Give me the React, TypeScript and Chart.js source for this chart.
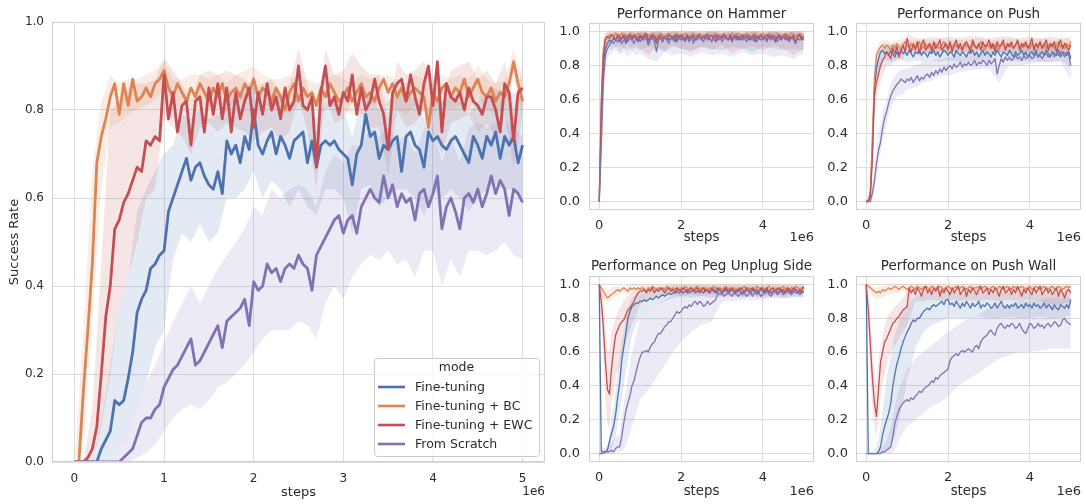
import React, { useEffect, useRef } from "react";
import { Chart, registerables } from "chart.js";

Chart.register(...registerables);

// ---------------------------------------------------------------------------
// Data (success rates in percent). Evaluation curves are logged every
// 50k environment steps (101 points, 0 .. 5e6); confidence bands are stored
// on coarser step grids.
// ---------------------------------------------------------------------------

const EVAL_INTERVAL = 50000;
const MAIN_BAND_INTERVAL = 100000;
// band grid for the per-task panels, in millions of steps
const SMALL_BAND_STEPS = [0, 0.05, 0.1, 0.15, 0.2, 0.25, 0.3, 0.4, 0.5, 0.6, 0.7, 0.8, 0.9, 1, 1.2, 1.4, 1.6, 1.8, 2, 2.25, 2.5, 2.75, 3, 3.25, 3.5, 3.75, 4, 4.25, 4.5, 4.75, 5];

const MODES = ["Fine-tuning", "Fine-tuning + BC", "Fine-tuning + EWC", "From Scratch"];
const COLORS = ["#4c72b0", "#dd8452", "#c44e52", "#8172b3"];
const LEGEND_TITLE = "mode";

const MAIN_X_TICKS = [0, 1, 2, 3, 4, 5];
const SMALL_X_TICKS = [0, 2, 4];
const Y_TICKS = [0, 0.2, 0.4, 0.6, 0.8, 1.0];

// ---- aggregate over all tasks ----
const MAIN_BLUE = [
  0, 0, 0, 0, 0, 0, 3, 5, 7, 14, 13, 14, 19, 25, 34, 37, 39, 44, 45, 47,
  48, 57, 60, 63, 66, 69, 64, 67, 68, 65, 63, 62, 66, 61, 73, 70, 72, 68, 74, 71,
  80, 72, 70, 73, 75, 70, 74, 72, 69, 73, 74, 75, 68, 73, 67, 72, 73, 72, 73, 71,
  70, 69, 63, 70, 72, 79, 74, 75, 69, 72, 71, 73, 74, 66, 74, 75, 72, 71, 67, 75,
  73, 74, 72, 71, 73, 74, 72, 70, 68, 74, 72, 69, 74, 72, 75, 69, 74, 72, 74, 68,
  72,
];
const MAIN_ORANGE = [
  0, 0, 16, 30, 45, 68, 74, 78, 83, 86, 79, 86, 81, 87, 82, 83, 85, 83, 86, 87,
  89, 85, 83, 86, 84, 82, 85, 83, 86, 84, 82, 85, 83, 86, 82, 84, 85, 83, 86, 84,
  87, 83, 85, 84, 82, 85, 83, 80, 84, 86, 82, 85, 83, 84, 81, 85, 83, 86, 84, 82,
  83, 85, 82, 84, 86, 83, 84, 82, 85, 87, 84, 86, 83, 85, 82, 84, 85, 84, 83, 76,
  84, 82, 85, 86, 83, 85, 84, 87, 83, 85, 87, 84, 83, 85, 82, 84, 83, 86, 91, 86,
  82,
];
const MAIN_RED = [
  0, 0, 0, 1, 3, 8, 20, 33, 40, 53, 55, 59, 61, 64, 67, 66, 73, 72, 74, 73,
  88, 78, 84, 75, 81, 82, 72, 82, 83, 75, 85, 79, 86, 78, 85, 75, 84, 78, 82, 85,
  76, 84, 79, 86, 80, 83, 78, 85, 80, 82, 90, 81, 80, 83, 67, 84, 90, 81, 83, 79,
  84, 82, 88, 79, 85, 80, 82, 87, 82, 79, 71, 84, 86, 87, 82, 88, 83, 79, 86, 90,
  81, 91, 75, 86, 83, 82, 84, 80, 85, 82, 81, 79, 83, 83, 80, 75, 86, 84, 73, 84,
  85,
];
const MAIN_PURPLE = [
  0, 0, 0, 0, 0, 0, 0, 0, 0, 0, 0, 1, 2, 3, 6, 9, 10, 10, 12, 13,
  17, 19, 21, 22, 24, 26, 28, 22, 23, 25, 27, 29, 31, 26, 32, 33, 34, 35, 37, 31,
  41, 39, 40, 45, 43, 44, 41, 44, 45, 44, 47, 45, 44, 39, 47, 49, 51, 53, 55, 56,
  52, 55, 56, 52, 58, 60, 62, 60, 59, 65, 60, 63, 58, 61, 59, 60, 55, 61, 62, 58,
  61, 65, 53, 58, 60, 57, 53, 60, 61, 59, 62, 58, 61, 65, 61, 64, 62, 56, 62, 61,
  59,
];

const MAIN_BLUE_LO = [0, 0, 0, 0, 1, 3, 6, 12, 18, 26, 30, 46, 52, 50, 54, 50, 52, 60, 60, 62, 66, 60, 64, 62, 58, 62, 58, 56, 62, 62, 60, 52, 62, 63, 58, 60, 62, 62, 60, 56, 62, 60, 62, 60, 57, 60, 62, 63, 62, 62, 60];
const MAIN_BLUE_HI = [0, 0, 0, 10, 22, 35, 42, 57, 62, 66, 70, 72, 79, 78, 80, 78, 79, 82, 83, 84, 88, 80, 84, 84, 80, 84, 80, 78, 82, 82, 80, 74, 82, 84, 80, 82, 84, 84, 82, 78, 83, 82, 83, 82, 79, 82, 84, 85, 84, 84, 82];
const MAIN_ORANGE_LO = [0, 5, 33, 62, 76, 77, 79, 80, 81, 82, 85, 80, 81, 82, 82, 80, 81, 80, 82, 82, 84, 82, 80, 80, 81, 80, 80, 79, 80, 81, 80, 79, 82, 81, 81, 81, 80, 79, 81, 80, 79, 81, 80, 81, 80, 83, 80, 79, 80, 87, 79];
const MAIN_ORANGE_HI = [0, 30, 66, 82, 88, 86, 87, 87, 88, 89, 91, 87, 87, 88, 88, 87, 88, 86, 88, 89, 90, 88, 87, 87, 88, 87, 87, 86, 87, 88, 87, 86, 88, 87, 88, 88, 87, 86, 88, 87, 86, 88, 87, 88, 87, 90, 87, 86, 87, 94, 86];
const MAIN_RED_LO = [0, 0, 0, 8, 20, 35, 42, 50, 60, 62, 78, 76, 74, 70, 76, 77, 75, 77, 76, 75, 73, 75, 76, 73, 75, 83, 75, 62, 84, 77, 78, 82, 79, 76, 76, 65, 80, 76, 77, 80, 75, 70, 77, 78, 79, 75, 77, 74, 79, 67, 79];
const MAIN_RED_HI = [0, 0, 12, 45, 80, 82, 85, 86, 86, 87, 92, 89, 86, 82, 88, 89, 88, 89, 88, 87, 85, 86, 87, 84, 86, 94, 86, 75, 94, 88, 89, 93, 90, 88, 88, 78, 91, 88, 89, 91, 87, 82, 89, 90, 91, 87, 89, 86, 91, 80, 91];
const MAIN_PURPLE_LO = [0, 0, 0, 0, 0, 0, 0, 1, 2, 4, 7, 10, 12, 13, 12, 14, 17, 18, 20, 22, 25, 28, 30, 30, 30, 32, 31, 28, 36, 40, 37, 42, 45, 47, 46, 48, 45, 46, 42, 48, 48, 40, 46, 42, 48, 48, 47, 48, 50, 47, 46];
const MAIN_PURPLE_HI = [0, 0, 0, 0, 1, 3, 6, 12, 18, 22, 27, 32, 36, 40, 36, 40, 44, 47, 50, 53, 58, 56, 62, 60, 62, 63, 62, 58, 66, 70, 68, 72, 72, 76, 74, 76, 73, 74, 70, 76, 76, 68, 74, 68, 76, 77, 76, 77, 78, 76, 74];

// ---- Hammer ----
const HAMMER_BLUE = [
  0, 45, 80, 90, 93, 95, 94, 96, 95, 97, 94, 96, 97, 93, 96, 98, 95, 97, 96, 94,
  97, 95, 98, 96, 93, 97, 96, 98, 95, 97, 96, 94, 97, 98, 95, 96, 97, 94, 98, 96,
  97, 95, 96, 98, 94, 97, 96, 95, 98, 97, 95, 97, 96, 98, 96, 94, 97, 98, 95, 96,
  97, 98, 96, 95, 97, 94, 98, 96, 97, 95, 96, 98, 97, 95, 96, 98, 94, 97, 96, 98,
  96, 97, 95, 98, 96, 97, 94, 96, 98, 95, 97, 96, 98, 95, 97, 96, 94, 97, 98, 96,
  95,
];
const HAMMER_ORANGE = [
  0, 60, 88, 96, 97, 98, 98, 97, 99, 98, 97, 99, 98, 98, 97, 99, 98, 97, 98, 99,
  98, 97, 99, 98, 98, 97, 99, 98, 97, 98, 99, 98, 97, 98, 99, 98, 97, 98, 99, 98,
  97, 98, 99, 98, 97, 98, 99, 97, 98, 99, 98, 97, 98, 99, 98, 97, 98, 99, 98, 97,
  98, 99, 97, 98, 98, 99, 97, 98, 99, 98, 97, 98, 99, 98, 97, 98, 99, 98, 97, 98,
  99, 97, 98, 99, 98, 97, 98, 99, 98, 97, 98, 99, 97, 98, 99, 98, 97, 98, 99, 98,
  97,
];
const HAMMER_RED = [
  0, 56, 86, 95, 97, 96, 98, 97, 95, 98, 97, 96, 98, 94, 97, 98, 96, 98, 97, 95,
  98, 96, 97, 99, 95, 97, 98, 96, 93, 97, 98, 96, 97, 95, 98, 97, 96, 98, 94, 97,
  98, 97, 95, 98, 96, 97, 98, 95, 97, 98, 96, 97, 98, 95, 97, 98, 96, 94, 98, 97,
  96, 98, 97, 95, 98, 96, 97, 98, 95, 97, 98, 96, 97, 98, 95, 97, 98, 96, 97, 98,
  95, 97, 98, 96, 97, 98, 94, 97, 98, 96, 97, 98, 95, 97, 96, 98, 93, 97, 98, 95,
  97,
];
const HAMMER_PURPLE = [
  0, 33, 70, 86, 90, 92, 94, 93, 95, 94, 96, 93, 95, 97, 94, 96, 95, 93, 96, 97,
  94, 96, 95, 97, 92, 95, 96, 94, 88, 95, 96, 94, 97, 95, 93, 96, 95, 97, 94, 96,
  95, 97, 94, 96, 95, 97, 93, 96, 95, 97, 96, 94, 97, 95, 96, 94, 97, 96, 95, 97,
  94, 96, 97, 95, 96, 94, 97, 95, 96, 97, 95, 96, 94, 97, 96, 95, 97, 94, 96, 95,
  97, 96, 94, 97, 95, 96, 97, 94, 96, 95, 97, 95, 96, 94, 97, 95, 93, 96, 95, 97,
  96,
];
const HAMMER_BLUE_LO = [0, 25, 65, 82, 88, 90, 89, 91, 88, 90, 89, 91, 90, 89, 91, 90, 88, 91, 90, 89, 91, 90, 89, 91, 90, 88, 91, 90, 89, 90, 89];
const HAMMER_BLUE_HI = [0, 62, 92, 97, 98, 99, 99, 100, 99, 100, 99, 100, 99, 100, 99, 100, 99, 100, 99, 100, 99, 100, 99, 100, 99, 100, 99, 100, 99, 100, 99];
const HAMMER_ORANGE_LO = [0, 45, 82, 93, 95, 96, 95, 96, 95, 96, 95, 96, 95, 96, 95, 96, 95, 96, 95, 96, 95, 96, 95, 96, 95, 96, 95, 96, 95, 96, 95];
const HAMMER_ORANGE_HI = [0, 78, 96, 99, 99, 100, 100, 100, 100, 100, 100, 100, 100, 100, 100, 100, 100, 100, 100, 100, 100, 100, 100, 100, 100, 100, 100, 100, 100, 100, 100];
const HAMMER_RED_LO = [0, 42, 78, 90, 93, 92, 93, 91, 92, 90, 93, 88, 92, 90, 86, 91, 89, 92, 90, 88, 91, 89, 92, 87, 90, 91, 89, 92, 90, 86, 90];
const HAMMER_RED_HI = [0, 72, 95, 99, 100, 100, 100, 100, 100, 100, 100, 100, 100, 100, 100, 100, 100, 100, 100, 100, 100, 100, 100, 100, 100, 100, 100, 100, 100, 100, 100];
const HAMMER_PURPLE_LO = [0, 18, 55, 76, 83, 86, 87, 89, 86, 88, 85, 88, 86, 87, 84, 82, 88, 86, 87, 85, 88, 86, 87, 85, 88, 86, 87, 85, 86, 84, 87];
const HAMMER_PURPLE_HI = [0, 48, 84, 94, 96, 98, 98, 99, 99, 100, 99, 100, 99, 100, 99, 100, 99, 100, 99, 100, 99, 100, 99, 100, 99, 100, 99, 100, 99, 100, 99];

// ---- Push ----
const PUSH_BLUE = [
  0, 0, 4, 30, 67, 78, 84, 88, 89, 87, 88, 86, 89, 87, 85, 88, 86, 89, 87, 88,
  86, 89, 87, 85, 88, 87, 89, 86, 88, 87, 85, 88, 87, 89, 86, 88, 85, 87, 89, 88,
  86, 88, 87, 85, 89, 87, 86, 88, 87, 85, 88, 87, 89, 86, 88, 85, 87, 89, 86, 88,
  87, 85, 88, 86, 89, 87, 85, 88, 87, 86, 89, 87, 85, 88, 86, 87, 89, 86, 88, 85,
  87, 88, 86, 89, 85, 87, 88, 86, 89, 87, 85, 88, 87, 86, 89, 85, 88, 87, 86, 88,
  84,
];
const PUSH_ORANGE = [
  0, 1, 6, 38, 72, 86, 89, 91, 92, 90, 92, 91, 89, 92, 90, 93, 91, 89, 92, 94,
  92, 90, 93, 91, 89, 92, 94, 90, 91, 93, 90, 92, 91, 89, 93, 91, 90, 92, 94, 91,
  89, 92, 90, 93, 91, 92, 90, 89, 93, 91, 92, 90, 93, 91, 90, 92, 94, 91, 89, 92,
  91, 93, 90, 92, 91, 89, 93, 92, 90, 91, 93, 91, 90, 92, 94, 91, 90, 93, 91, 92,
  90, 93, 91, 92, 90, 94, 91, 93, 90, 92, 91, 93, 90, 92, 94, 91, 92, 90, 93, 91,
  94,
];
const PUSH_RED = [
  0, 0, 3, 25, 62, 70, 75, 80, 83, 85, 88, 86, 84, 90, 87, 91, 85, 89, 92, 88,
  96, 91, 88, 93, 90, 94, 87, 92, 95, 89, 91, 93, 88, 94, 90, 92, 95, 89, 91, 93,
  90, 94, 88, 92, 95, 90, 93, 89, 92, 94, 91, 88, 95, 92, 90, 93, 89, 94, 91, 92,
  95, 90, 93, 88, 94, 91, 92, 95, 89, 93, 91, 94, 90, 92, 95, 89, 93, 91, 94, 90,
  92, 96, 89, 93, 91, 94, 90, 92, 95, 89, 93, 91, 94, 88, 92, 95, 90, 93, 91, 89,
  92,
];
const PUSH_PURPLE = [
  0, 0, 0, 5, 12, 22, 30, 35, 43, 49, 53, 58, 62, 65, 67, 69, 70, 72, 71, 70,
  72, 71, 73, 70, 72, 74, 71, 73, 72, 74, 75, 73, 76, 74, 77, 75, 78, 76, 79, 77,
  79, 80, 78, 81, 79, 80, 82, 79, 81, 80, 82, 80, 81, 83, 80, 82, 81, 83, 82, 80,
  83, 81, 82, 84, 75, 80, 84, 82, 85, 83, 85, 83, 84, 86, 84, 85, 83, 86, 84, 85,
  86, 84, 85, 87, 85, 86, 84, 86, 87, 85, 86, 88, 85, 87, 86, 88, 87, 85, 88, 86,
  80,
];
const PUSH_BLUE_LO = [0, 0, 1, 18, 55, 70, 78, 83, 83, 82, 83, 84, 83, 82, 83, 82, 83, 82, 83, 82, 82, 83, 82, 82, 83, 82, 83, 82, 82, 83, 79];
const PUSH_BLUE_HI = [0, 1, 10, 45, 78, 86, 90, 93, 93, 92, 93, 92, 92, 93, 92, 92, 93, 92, 92, 93, 92, 92, 93, 92, 92, 93, 92, 92, 93, 92, 90];
const PUSH_ORANGE_LO = [0, 0, 2, 25, 62, 80, 85, 88, 88, 87, 88, 87, 88, 87, 87, 88, 87, 87, 88, 87, 88, 87, 87, 88, 87, 88, 87, 88, 87, 88, 90];
const PUSH_ORANGE_HI = [0, 2, 12, 52, 82, 91, 93, 95, 95, 94, 95, 95, 96, 95, 95, 95, 95, 96, 95, 95, 95, 96, 95, 95, 96, 95, 95, 96, 95, 95, 97];
const PUSH_RED_LO = [0, 0, 1, 15, 50, 60, 66, 74, 80, 80, 82, 83, 84, 90, 88, 87, 88, 88, 87, 88, 88, 89, 88, 87, 88, 89, 88, 87, 88, 87, 88];
const PUSH_RED_HI = [0, 1, 6, 36, 72, 80, 84, 88, 92, 92, 93, 93, 94, 99, 96, 96, 97, 96, 97, 96, 97, 97, 96, 97, 97, 96, 97, 96, 97, 96, 96];
const PUSH_PURPLE_LO = [0, 0, 0, 1, 6, 14, 22, 36, 46, 55, 60, 63, 63, 66, 67, 70, 71, 74, 74, 76, 77, 78, 78, 70, 80, 80, 81, 82, 82, 82, 72];
const PUSH_PURPLE_HI = [0, 0, 1, 10, 18, 30, 40, 52, 60, 70, 74, 77, 78, 78, 80, 82, 83, 84, 85, 86, 86, 87, 88, 81, 89, 89, 90, 91, 91, 91, 88];

// ---- Peg Unplug Side ----
const PEG_BLUE = [
  100, 1, 1, 1, 2, 7, 12, 16, 23, 33, 42, 55, 63, 71, 80, 84, 87, 88, 89, 89,
  90, 90, 91, 90, 91, 92, 91, 92, 93, 92, 93, 94, 93, 94, 95, 94, 95, 95, 96, 95,
  96, 95, 96, 97, 95, 96, 97, 95, 96, 97, 96, 95, 97, 96, 95, 97, 96, 95, 96, 97,
  95, 96, 97, 95, 96, 97, 96, 95, 97, 96, 95, 96, 97, 96, 95, 97, 96, 95, 96, 97,
  96, 95, 97, 96, 95, 96, 97, 95, 96, 97, 95, 96, 97, 96, 95, 96, 97, 95, 96, 95,
  96,
];
const PEG_ORANGE = [
  100, 98, 96, 94, 92, 93, 94, 95, 96, 97, 96, 97, 98, 97, 96, 98, 97, 98, 97, 98,
  97, 98, 97, 96, 98, 97, 99, 98, 97, 98, 97, 98, 97, 99, 98, 97, 98, 97, 98, 96,
  98, 97, 99, 98, 97, 98, 97, 98, 99, 97, 98, 97, 98, 96, 98, 97, 99, 98, 97, 98,
  97, 98, 99, 97, 98, 97, 98, 96, 98, 97, 98, 99, 97, 98, 97, 98, 97, 99, 98, 97,
  98, 97, 98, 99, 97, 98, 96, 98, 97, 98, 99, 97, 98, 97, 98, 97, 99, 98, 97, 98,
  98,
];
const PEG_RED = [
  100, 90, 75, 55, 38, 35, 50, 61, 70, 73, 76, 78, 79, 82, 85, 86, 88, 90, 93, 95,
  96, 96, 97, 95, 97, 96, 98, 95, 97, 96, 98, 97, 95, 97, 98, 96, 97, 95, 98, 97,
  96, 98, 97, 95, 97, 98, 96, 97, 98, 95, 97, 98, 96, 97, 95, 98, 97, 96, 98, 97,
  95, 97, 98, 96, 97, 98, 95, 97, 96, 98, 97, 95, 98, 96, 97, 98, 96, 97, 95, 98,
  97, 96, 98, 95, 97, 98, 96, 97, 98, 96, 97, 95, 98, 97, 96, 98, 97, 95, 97, 96,
  99,
];
const PEG_PURPLE = [
  0, 0, 0, 1, 1, 1, 2, 1, 3, 4, 4, 10, 18, 25, 30, 34, 40, 43, 48, 53,
  57, 60, 60, 61, 60, 63, 65, 66, 69, 71, 71, 73, 75, 76, 78, 78, 80, 82, 84, 83,
  84, 86, 87, 86, 88, 87, 89, 90, 88, 90, 89, 87, 88, 90, 88, 89, 90, 91, 95, 94,
  95, 93, 94, 95, 94, 93, 95, 94, 93, 95, 94, 95, 93, 94, 95, 93, 96, 94, 95, 93,
  94, 95, 96, 94, 93, 95, 96, 94, 95, 96, 94, 95, 96, 95, 94, 96, 95, 96, 94, 95,
  96,
];
const PEG_BLUE_LO = [100, 0, 0, 0, 0, 1, 3, 10, 25, 40, 55, 70, 76, 80, 84, 88, 90, 92, 93, 92, 93, 92, 93, 93, 92, 93, 92, 93, 92, 93, 92];
const PEG_BLUE_HI = [100, 5, 3, 3, 5, 10, 20, 36, 58, 72, 86, 92, 94, 95, 96, 97, 98, 99, 99, 99, 99, 99, 99, 99, 99, 99, 99, 99, 99, 99, 99];
const PEG_ORANGE_LO = [100, 95, 92, 90, 89, 90, 91, 93, 94, 95, 94, 95, 96, 95, 95, 96, 95, 96, 95, 95, 96, 95, 96, 95, 96, 95, 96, 95, 96, 95, 96];
const PEG_ORANGE_HI = [100, 100, 99, 98, 97, 97, 98, 99, 99, 99, 100, 100, 100, 100, 100, 100, 100, 100, 100, 100, 100, 100, 100, 100, 100, 100, 100, 100, 100, 100, 100];
const PEG_RED_LO = [100, 80, 55, 32, 18, 15, 30, 45, 52, 62, 70, 76, 82, 88, 92, 93, 93, 94, 93, 94, 93, 94, 93, 94, 93, 94, 93, 94, 93, 94, 95];
const PEG_RED_HI = [100, 98, 92, 78, 62, 60, 72, 80, 86, 90, 93, 95, 97, 99, 99, 99, 99, 100, 100, 100, 100, 100, 100, 100, 100, 100, 100, 100, 100, 100, 100];
const PEG_PURPLE_LO = [0, 0, 0, 0, 0, 0, 0, 1, 1, 2, 8, 16, 24, 32, 38, 45, 52, 60, 66, 72, 76, 78, 90, 90, 91, 91, 91, 92, 92, 92, 93];
const PEG_PURPLE_HI = [0, 0, 1, 2, 3, 4, 6, 10, 12, 30, 45, 60, 70, 80, 84, 88, 91, 94, 96, 97, 98, 98, 98, 98, 98, 98, 98, 98, 98, 98, 98];

// ---- Push Wall ----
const WALL_BLUE = [
  100, 0, 0, 0, 0, 0, 1, 4, 11, 16, 20, 24, 30, 40, 47, 53, 57, 62, 66, 69,
  72, 74, 77, 79, 78, 80, 80, 82, 84, 85, 86, 85, 87, 88, 87, 88, 89, 90, 88, 91,
  91, 88, 89, 87, 90, 88, 86, 89, 87, 90, 88, 86, 89, 87, 88, 90, 86, 88, 87, 89,
  88, 86, 87, 89, 86, 88, 90, 87, 86, 88, 86, 88, 87, 89, 86, 87, 88, 86, 89, 87,
  88, 86, 89, 87, 88, 86, 87, 89, 86, 88, 87, 85, 88, 86, 85, 88, 87, 86, 88, 86,
  91,
];
const WALL_ORANGE = [
  100, 99, 98, 97, 96, 95, 96, 95, 97, 96, 97, 98, 97, 98, 99, 98, 97, 98, 99, 98,
  97, 98, 99, 98, 97, 99, 98, 97, 98, 99, 98, 97, 99, 98, 97, 98, 99, 98, 97, 98,
  99, 98, 97, 98, 99, 97, 98, 99, 98, 97, 98, 99, 97, 98, 98, 99, 97, 98, 99, 98,
  97, 98, 99, 98, 97, 99, 98, 97, 98, 99, 98, 97, 99, 98, 97, 98, 99, 98, 97, 98,
  99, 97, 98, 99, 98, 97, 98, 99, 98, 97, 98, 99, 97, 98, 99, 98, 97, 98, 99, 98,
  99,
];
const WALL_RED = [
  100, 85, 65, 45, 30, 22, 38, 54, 60, 66, 68, 71, 74, 77, 78, 80, 81, 83, 85, 86,
  87, 98, 95, 97, 94, 98, 96, 93, 97, 99, 95, 97, 94, 98, 96, 99, 93, 97, 95, 98,
  96, 94, 98, 95, 97, 99, 94, 96, 98, 93, 97, 95, 98, 96, 94, 97, 99, 95, 96, 98,
  94, 97, 95, 98, 96, 93, 97, 99, 95, 96, 98, 94, 97, 95, 99, 96, 93, 97, 95, 98,
  96, 94, 98, 95, 97, 99, 94, 96, 98, 95, 97, 94, 96, 98, 93, 97, 95, 92, 96, 97,
  95,
];
const WALL_PURPLE = [
  0, 0, 0, 0, 0, 0, 0, 0, 1, 1, 2, 3, 4, 10, 18, 22, 26, 28, 30, 31,
  32, 31, 33, 32, 34, 35, 37, 36, 38, 39, 40, 41, 43, 42, 45, 44, 46, 47, 48, 49,
  50, 55, 57, 58, 59, 58, 60, 61, 60, 61, 62, 61, 60, 63, 64, 62, 66, 68, 69, 70,
  72, 73, 71, 70, 74, 76, 77, 75, 74, 76, 75, 77, 76, 74, 75, 77, 74, 72, 71, 74,
  77, 76, 74, 75, 77, 75, 76, 74, 76, 77, 75, 76, 78, 77, 75, 76, 79, 80, 78, 77,
  76,
];
const WALL_BLUE_LO = [100, 0, 0, 0, 0, 0, 0, 0, 2, 5, 10, 20, 30, 44, 62, 72, 76, 78, 80, 80, 80, 81, 80, 80, 81, 80, 80, 81, 80, 80, 82];
const WALL_BLUE_HI = [100, 3, 1, 1, 2, 4, 8, 25, 45, 58, 70, 78, 84, 88, 93, 95, 96, 96, 96, 95, 95, 95, 95, 95, 95, 95, 95, 95, 95, 95, 96];
const WALL_ORANGE_LO = [100, 97, 95, 93, 92, 91, 92, 92, 94, 94, 95, 95, 96, 95, 96, 95, 96, 95, 96, 95, 96, 95, 96, 95, 96, 95, 96, 95, 96, 95, 96];
const WALL_ORANGE_HI = [100, 100, 100, 99, 99, 98, 99, 99, 100, 100, 100, 100, 100, 100, 100, 100, 100, 100, 100, 100, 100, 100, 100, 100, 100, 100, 100, 100, 100, 100, 100];
const WALL_RED_LO = [100, 72, 48, 28, 15, 10, 22, 42, 52, 60, 64, 68, 72, 76, 90, 90, 91, 90, 91, 90, 91, 90, 91, 90, 91, 90, 91, 90, 88, 88, 90];
const WALL_RED_HI = [100, 96, 82, 62, 48, 40, 55, 70, 80, 84, 87, 89, 92, 97, 99, 99, 99, 99, 99, 99, 99, 99, 99, 99, 99, 99, 99, 99, 99, 99, 99];
const WALL_PURPLE_LO = [0, 0, 0, 0, 0, 0, 0, 0, 0, 0, 2, 8, 12, 16, 20, 24, 28, 30, 34, 40, 44, 48, 52, 56, 58, 60, 60, 61, 62, 62, 62];
const WALL_PURPLE_HI = [0, 0, 0, 0, 0, 1, 2, 4, 8, 16, 28, 38, 44, 50, 56, 60, 64, 68, 72, 76, 80, 82, 86, 88, 88, 90, 90, 91, 92, 92, 92];

// ---------------------------------------------------------------------------
// Styling
// ---------------------------------------------------------------------------

const FONT = '"DejaVu Sans", "Liberation Sans", sans-serif';
const TEXT_COLOR = "#2b2b2b";
const GRID_COLOR = "#dcdcdc";
const FRAME_COLOR = "#d0d0d0";
const BAND_ALPHA = 0.15;

function rgba(hex: string, a: number) {
  const n = parseInt(hex.slice(1), 16);
  return `rgba(${(n >> 16) & 255},${(n >> 8) & 255},${n & 255},${a})`;
}

function makeDatasets(
  lines: number[][],
  lows: number[][],
  highs: number[][],
  bandSteps: number[],
  lineWidth: number
) {
  const datasets: any[] = [];
  MODES.forEach((mode, k) => {
    datasets.push({
      label: mode + " low",
      isBand: true,
      data: bandSteps.map((s, i) => ({ x: s, y: lows[k][i] / 100 })),
      borderColor: "rgba(0,0,0,0)",
      borderWidth: 0,
      pointRadius: 0,
      fill: false,
      order: 20 + k,
    });
    datasets.push({
      label: mode + " high",
      isBand: true,
      data: bandSteps.map((s, i) => ({ x: s, y: highs[k][i] / 100 })),
      borderColor: "rgba(0,0,0,0)",
      borderWidth: 0,
      pointRadius: 0,
      fill: "-1",
      backgroundColor: rgba(COLORS[k], BAND_ALPHA),
      order: 20 + k,
    });
  });
  MODES.forEach((mode, k) => {
    datasets.push({
      label: mode,
      isBand: false,
      data: lines[k].map((v, i) => ({ x: i * EVAL_INTERVAL, y: v / 100 })),
      borderColor: COLORS[k],
      backgroundColor: COLORS[k],
      borderWidth: lineWidth,
      borderJoinStyle: "round",
      pointRadius: 0,
      fill: false,
      tension: 0,
      order: 10 - k,
    });
  });
  return datasets;
}

// frame, panel title, "1e6" offset label and the legend
const decorPlugin = {
  id: "decor",
  afterDatasetsDraw(chart: any) {
    const { ctx, chartArea: a } = chart;
    ctx.save();
    ctx.strokeStyle = FRAME_COLOR;
    ctx.lineWidth = 1;
    const l = Math.round(a.left) + 0.5;
    const t = Math.round(a.top) + 0.5;
    const r = Math.round(a.right) - 0.5;
    const b = Math.round(a.bottom) - 0.5;
    ctx.strokeRect(l, t, r - l, b - t);
    ctx.restore();
  },
  afterDraw(chart: any, _args: any, opts: any) {
    const { ctx, chartArea: a } = chart;
    ctx.save();
    ctx.fillStyle = TEXT_COLOR;
    if (opts.title) {
      ctx.font = `${opts.titleSize}px ${FONT}`;
      ctx.textAlign = "center";
      ctx.textBaseline = "middle";
      ctx.fillText(opts.title, (a.left + a.right) / 2, a.top - opts.titleGap);
    }
    ctx.font = `${opts.tickSize}px ${FONT}`;
    ctx.textAlign = "right";
    ctx.textBaseline = "middle";
    ctx.fillText("1e6", a.right, a.bottom + opts.offsetGap);

    if (opts.legend) {
      const items = chart.data.datasets.filter((d: any) => !d.isBand);
      const w = 165;
      const h = 98;
      const x = a.right - 6 - w;
      const y = a.bottom - 6 - h;
      ctx.beginPath();
      ctx.roundRect(x + 0.5, y + 0.5, w, h, 3);
      ctx.fillStyle = "rgba(255,255,255,0.8)";
      ctx.fill();
      ctx.strokeStyle = "#cccccc";
      ctx.lineWidth = 1;
      ctx.stroke();
      ctx.fillStyle = TEXT_COLOR;
      ctx.font = `12.5px ${FONT}`;
      ctx.textAlign = "center";
      ctx.textBaseline = "middle";
      ctx.fillText(LEGEND_TITLE, x + w / 2, y + 10);
      ctx.textAlign = "left";
      items.forEach((d: any, i: number) => {
        const cy = y + 29 + i * 19;
        ctx.strokeStyle = d.borderColor;
        ctx.lineWidth = 2.6;
        ctx.beginPath();
        ctx.moveTo(x + 4, cy);
        ctx.lineTo(x + 31, cy);
        ctx.stroke();
        ctx.fillStyle = TEXT_COLOR;
        ctx.fillText(d.label, x + 41, cy + 0.5);
      });
    }
    ctx.restore();
  },
};

type PanelSpec = {
  left: number;
  top: number;
  width: number;
  height: number;
  padTop: number;
  padRight: number;
  yAxisWidth: number;
  xAxisHeight: number;
  yMin: number;
  yMax: number;
  xTicks: number[];
  tickSize: number;
  labelSize: number;
  xTickPad: number;
  yTickPad: number;
  yTitle?: string;
  title?: string;
  titleSize?: number;
  titleGap?: number;
  offsetGap: number;
  legend?: boolean;
  lineWidth: number;
  lines: number[][];
  lows: number[][];
  highs: number[][];
  bandSteps: number[];
};

function Panel({ spec }: { spec: PanelSpec }) {
  const ref = useRef<HTMLCanvasElement>(null);
  useEffect(() => {
    const s = spec;
    const tickFont = { family: FONT, size: s.tickSize };
    const labelFont = { family: FONT, size: s.labelSize };
    const chart = new Chart(ref.current as HTMLCanvasElement, {
      type: "line",
      data: { datasets: makeDatasets(s.lines, s.lows, s.highs, s.bandSteps, s.lineWidth) },
      options: {
        animation: false,
        responsive: false,
        devicePixelRatio: 1,
        parsing: false as any,
        layout: { padding: { top: s.padTop, right: s.padRight, left: 0, bottom: 0 } },
        plugins: {
          legend: { display: false },
          tooltip: { enabled: false },
          decor: {
            title: s.title,
            titleSize: s.titleSize,
            titleGap: s.titleGap,
            tickSize: s.tickSize,
            offsetGap: s.offsetGap,
            legend: s.legend,
          },
        } as any,
        scales: {
          x: {
            type: "linear",
            min: -250000,
            max: 5250000,
            afterBuildTicks: (sc: any) => {
              sc.ticks = s.xTicks.map((v) => ({ value: v * 1e6 }));
            },
            afterFit: (sc: any) => {
              sc.height = s.xAxisHeight;
            },
            ticks: {
              autoSkip: false,
              maxRotation: 0,
              padding: s.xTickPad,
              color: TEXT_COLOR,
              font: tickFont,
              callback: (v: any) => String(Math.round(Number(v) / 1e6)),
            },
            grid: { color: GRID_COLOR, lineWidth: 1, drawTicks: false },
            border: { display: false },
            title: {
              display: true,
              text: "steps",
              color: TEXT_COLOR,
              font: labelFont,
              padding: { top: 0, bottom: 4 },
            },
          },
          y: {
            type: "linear",
            min: s.yMin,
            max: s.yMax,
            afterBuildTicks: (sc: any) => {
              sc.ticks = Y_TICKS.map((v) => ({ value: v }));
            },
            afterFit: (sc: any) => {
              sc.width = s.yAxisWidth;
            },
            ticks: {
              autoSkip: false,
              padding: s.yTickPad,
              color: TEXT_COLOR,
              font: tickFont,
              callback: (v: any) => Number(v).toFixed(1),
            },
            grid: { color: GRID_COLOR, lineWidth: 1, drawTicks: false },
            border: { display: false },
            title: {
              display: !!s.yTitle,
              text: s.yTitle || "",
              color: TEXT_COLOR,
              font: labelFont,
              padding: { top: 7, bottom: 0 },
            },
          },
        },
      },
      plugins: [decorPlugin as any],
    });
    return () => chart.destroy();
  }, [spec]);
  return (
    <canvas
      ref={ref}
      width={spec.width}
      height={spec.height}
      style={{ position: "absolute", left: spec.left, top: spec.top, width: spec.width, height: spec.height }}
    />
  );
}

const mainBandSteps = MAIN_BLUE_LO.map((_, i) => i * MAIN_BAND_INTERVAL);
const smallBandSteps = SMALL_BAND_STEPS.map((s) => s * 1e6);

const PANELS: PanelSpec[] = [
  {
    left: 0, top: 0, width: 550, height: 504,
    padTop: 22, padRight: 5, yAxisWidth: 52, xAxisHeight: 42,
    yMin: 0, yMax: 1, xTicks: MAIN_X_TICKS,
    tickSize: 12, labelSize: 13, xTickPad: 10, yTickPad: 8,
    yTitle: "Success Rate", offsetGap: 30, legend: true, lineWidth: 2.8,
    lines: [MAIN_BLUE, MAIN_ORANGE, MAIN_RED, MAIN_PURPLE],
    lows: [MAIN_BLUE_LO, MAIN_ORANGE_LO, MAIN_RED_LO, MAIN_PURPLE_LO],
    highs: [MAIN_BLUE_HI, MAIN_ORANGE_HI, MAIN_RED_HI, MAIN_PURPLE_HI],
    bandSteps: mainBandSteps,
  },
  {
    left: 550, top: 0, width: 270, height: 250,
    padTop: 23, padRight: 6, yAxisWidth: 39, xAxisHeight: 40,
    yMin: -0.05, yMax: 1.05, xTicks: SMALL_X_TICKS,
    tickSize: 13, labelSize: 13.3, xTickPad: 8, yTickPad: 9,
    title: "Performance on Hammer", titleSize: 13.5, titleGap: 9, offsetGap: 28, lineWidth: 1.3,
    lines: [HAMMER_BLUE, HAMMER_ORANGE, HAMMER_RED, HAMMER_PURPLE],
    lows: [HAMMER_BLUE_LO, HAMMER_ORANGE_LO, HAMMER_RED_LO, HAMMER_PURPLE_LO],
    highs: [HAMMER_BLUE_HI, HAMMER_ORANGE_HI, HAMMER_RED_HI, HAMMER_PURPLE_HI],
    bandSteps: smallBandSteps,
  },
  {
    left: 820, top: 0, width: 266, height: 250,
    padTop: 23, padRight: 5, yAxisWidth: 36, xAxisHeight: 40,
    yMin: -0.05, yMax: 1.05, xTicks: SMALL_X_TICKS,
    tickSize: 13, labelSize: 13.3, xTickPad: 8, yTickPad: 8,
    title: "Performance on Push", titleSize: 13.5, titleGap: 9, offsetGap: 28, lineWidth: 1.3,
    lines: [PUSH_BLUE, PUSH_ORANGE, PUSH_RED, PUSH_PURPLE],
    lows: [PUSH_BLUE_LO, PUSH_ORANGE_LO, PUSH_RED_LO, PUSH_PURPLE_LO],
    highs: [PUSH_BLUE_HI, PUSH_ORANGE_HI, PUSH_RED_HI, PUSH_PURPLE_HI],
    bandSteps: smallBandSteps,
  },
  {
    left: 550, top: 250, width: 270, height: 254,
    padTop: 26, padRight: 6, yAxisWidth: 39, xAxisHeight: 42,
    yMin: -0.05, yMax: 1.05, xTicks: SMALL_X_TICKS,
    tickSize: 13, labelSize: 13.3, xTickPad: 8, yTickPad: 9,
    title: "Performance on Peg Unplug Side", titleSize: 13.5, titleGap: 10, offsetGap: 30, lineWidth: 1.3,
    lines: [PEG_BLUE, PEG_ORANGE, PEG_RED, PEG_PURPLE],
    lows: [PEG_BLUE_LO, PEG_ORANGE_LO, PEG_RED_LO, PEG_PURPLE_LO],
    highs: [PEG_BLUE_HI, PEG_ORANGE_HI, PEG_RED_HI, PEG_PURPLE_HI],
    bandSteps: smallBandSteps,
  },
  {
    left: 820, top: 250, width: 266, height: 254,
    padTop: 26, padRight: 5, yAxisWidth: 36, xAxisHeight: 42,
    yMin: -0.05, yMax: 1.05, xTicks: SMALL_X_TICKS,
    tickSize: 13, labelSize: 13.3, xTickPad: 8, yTickPad: 8,
    title: "Performance on Push Wall", titleSize: 13.5, titleGap: 10, offsetGap: 30, lineWidth: 1.3,
    lines: [WALL_BLUE, WALL_ORANGE, WALL_RED, WALL_PURPLE],
    lows: [WALL_BLUE_LO, WALL_ORANGE_LO, WALL_RED_LO, WALL_PURPLE_LO],
    highs: [WALL_BLUE_HI, WALL_ORANGE_HI, WALL_RED_HI, WALL_PURPLE_HI],
    bandSteps: smallBandSteps,
  },
];

export default function App() {
  return (
    <div style={{ position: "fixed", left: 0, top: 0, width: 1086, height: 504, background: "#ffffff" }}>
      {PANELS.map((p, i) => (
        <Panel key={i} spec={p} />
      ))}
    </div>
  );
}
